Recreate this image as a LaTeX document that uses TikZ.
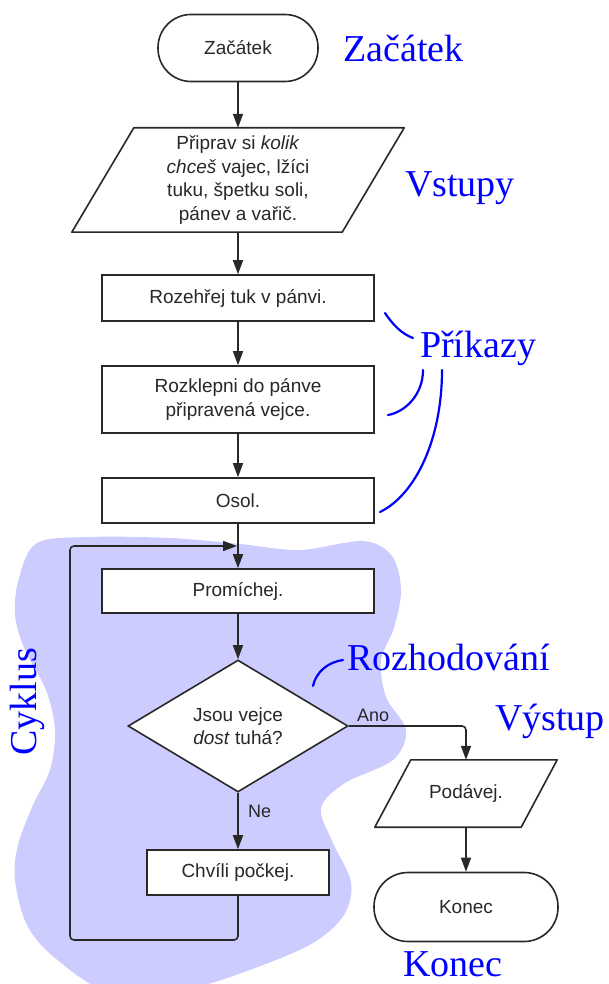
\documentclass[tikz,border=0pt]{standalone}
\usepackage{fontspec}
\setmainfont{Liberation Serif}
\newfontfamily\nodefont{Liberation Sans}
\usetikzlibrary{arrows.meta,shapes.geometric,calc}
\definecolor{blobcol}{RGB}{204,204,255}
\definecolor{lblblue}{RGB}{0,0,255}
\definecolor{inkgray}{RGB}{40,40,40}
\begin{document}
\begin{tikzpicture}[x=1pt,y=-1pt,
  every node/.style={font=\nodefont\fontsize{19}{23.5}\selectfont, text=inkgray},
  flowline/.style={draw=inkgray, line width=1.6pt, line join=round},
  procbox/.style={draw=inkgray, line width=1.6pt, fill=white, rectangle, minimum width=272pt, align=center, inner sep=0pt},
  termbox/.style={draw=inkgray, line width=1.6pt, fill=white, rectangle, inner sep=0pt},
  iobox/.style={rectangle, inner sep=0pt, align=center},
  decbox/.style={draw=inkgray, line width=1.6pt, fill=white, diamond, aspect=1.667, minimum width=220pt, minimum height=132pt, inner sep=0pt, align=center},
  arr/.style={draw=inkgray, line width=1.6pt, -{Triangle[length=14pt,width=10pt]}},
  smalllbl/.style={anchor=base west, inner sep=0pt, font=\nodefont\fontsize{18}{20}\selectfont},
  bluelbl/.style={font=\rmfamily\fontsize{38}{40}\selectfont, text=lblblue, inner sep=0pt, anchor=base west},
  bluecurve/.style={draw=lblblue, line width=2.2pt, line cap=round},
]
\useasboundingbox (0,0) rectangle (608,984);

% background blob (loop region)
\fill[blobcol] plot[smooth cycle, tension=0.55] coordinates {
 (37,543) (90,537) (170,538) (240,544) (300,550) (363,541) (392,556) (401,590)
 (394,628) (381,660) (386,697) (406,730) (393,760) (345,783) (321,808) (333,843)
 (351,882) (344,915) (313,943) (255,968) (190,988) (110,992) (55,958) (27,925)
 (15,880) (18,845) (33,805) (50,770) (55,730) (46,690) (25,650) (15,615) (19,578)};

% blue pointer curves
\draw[bluecurve] (385,313) .. controls (393,325) and (402,334) .. (413,338);
\draw[bluecurve] (423,370) .. controls (423,395) and (405,412) .. (388,415);
\draw[bluecurve] (442,370) .. controls (442,440) and (415,495) .. (380,512);
\draw[bluecurve] (313,686) .. controls (316,672) and (328,662) .. (343,660);

% flowchart nodes
\node[termbox, minimum width=160pt, minimum height=67pt, rounded corners=33pt] (start) at (238,48) {Začátek};
\node[iobox, minimum width=270pt, minimum height=104pt] (in1) at (238,180)
  {Připrav si \textit{kolik}\\\textit{chceš} vajec, lžíci\\tuku, špetku soli,\\pánev a vařič.};
\draw[flowline] ($(in1.north west)+(31,0)$) -- ($(in1.north east)+(31,0)$)
  -- ($(in1.south east)+(-31,0)$) -- ($(in1.south west)+(-31,0)$) -- cycle;
\node[procbox, minimum height=46pt] (b1) at (238,298) {Rozehřej tuk v pánvi.};
\node[procbox, minimum height=67pt] (b2) at (238,399.5) {Rozklepni do pánve\\připravená vejce.};
\node[procbox, minimum height=45pt] (b3) at (238,500.5) {Osol.};
\node[procbox, minimum height=44pt] (b4) at (238,591) {Promíchej.};
\node[decbox] (dec) at (238,726) {Jsou vejce\\\textit{dost} tuhá?};
\node[procbox, minimum width=182pt, minimum height=45pt] (b5) at (238,872.5) {Chvíli počkej.};
\node[iobox, minimum width=146pt, minimum height=67pt] (out) at (466,793.5) {Podávej.};
\draw[flowline] ($(out.north west)+(18,0)$) -- ($(out.north east)+(18,0)$)
  -- ($(out.south east)+(-18,0)$) -- ($(out.south west)+(-18,0)$) -- cycle;
\node[termbox, minimum width=184pt, minimum height=69pt, rounded corners=34pt] (end) at (466,907) {Konec};

% connectors
\coordinate (lb) at (70,940);
\coordinate (lt) at (70,546);
\coordinate (jn) at (237,546);
\draw[arr] (start) -- (in1);
\draw[arr] (in1) -- (b1);
\draw[arr] (b1) -- (b2);
\draw[arr] (b2) -- (b3);
\draw[arr] (b3) -- (b4);
\draw[arr] (b4) -- (dec);
\draw[arr] (dec) -- (b5);
\draw[arr, rounded corners=4pt] (dec.east) -| (out.north);
\draw[arr] (out) -- (end);
\draw[arr, rounded corners=4pt] (b5.south) |- (lb) -- (lt) -- (jn);
\node[smalllbl] (ano) at (357,721) {Ano};
\node[smalllbl] (ne) at (248,817) {Ne};

% blue annotation labels
\node[bluelbl] (lz) at (343,62) {Začátek};
\node[bluelbl] (lv) at (405,197) {Vstupy};
\node[bluelbl] (lp) at (420,357) {Příkazy};
\node[bluelbl] (lr) at (347,670) {Rozhodování};
\node[bluelbl] (lo) at (495,730) {Výstup};
\node[bluelbl] (lk) at (403,976) {Konec};
\node[bluelbl, rotate=90] (lc) at (36,756) {Cyklus};
\end{tikzpicture}
\end{document}
